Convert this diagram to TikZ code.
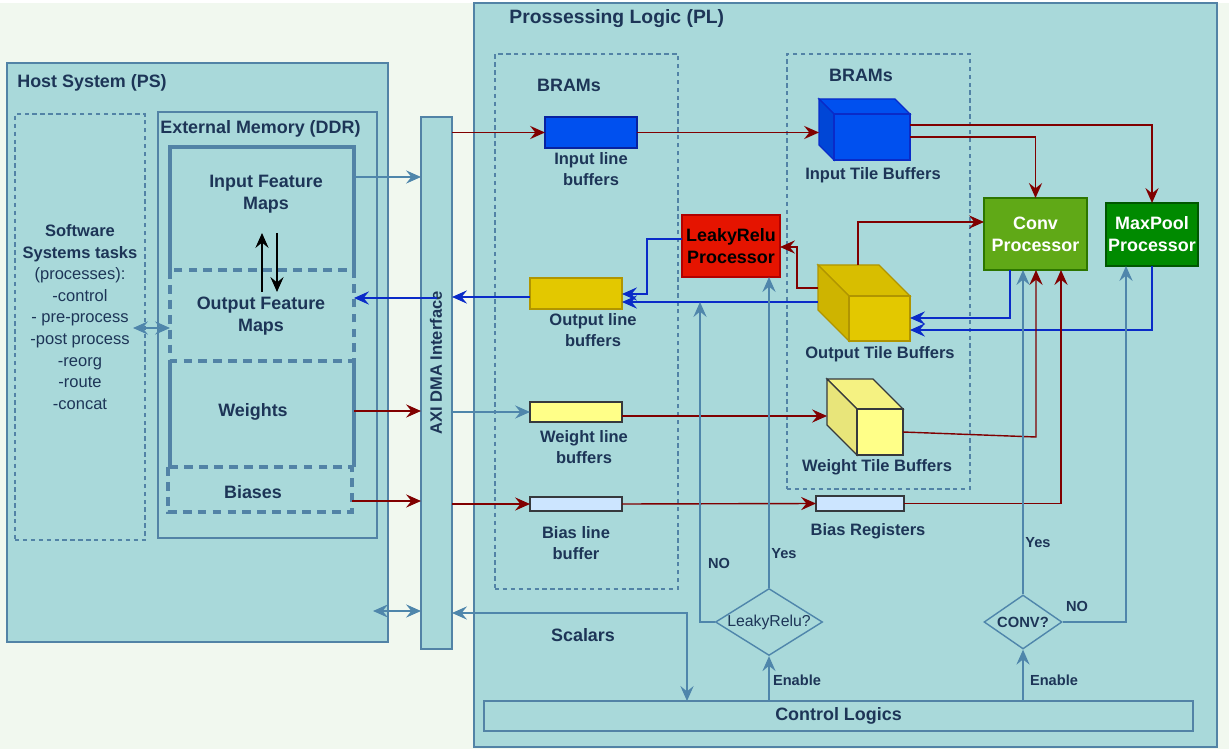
\documentclass[tikz,border=0pt]{standalone}
\usepackage{fontspec}
\setmainfont{Liberation Sans}
\usetikzlibrary{arrows.meta, fit, shapes.geometric}

\definecolor{bgcol}{HTML}{F1F8EF}
\definecolor{panelcol}{HTML}{A9D9DA}
\definecolor{edgecol}{HTML}{5283A6}
\definecolor{steelcol}{HTML}{4F86AB}
\definecolor{txtcol}{HTML}{1D3557}
\definecolor{darkred}{HTML}{800000}
\definecolor{bluecol}{HTML}{0A2BC8}

\begin{document}
\begin{tikzpicture}[x=0.02cm, y=-0.02cm, >={Stealth[length=8.5pt,width=7.5pt,inset=3pt]},
    every node/.style={text=txtcol},
    panel/.style={draw=edgecol, fill=panelcol, line width=0.7pt},
    brams/.style={draw=edgecol, line width=0.7pt, dash pattern=on 2.5pt off 2pt},
    membox/.style={draw=edgecol, line width=1.8pt},
    memdash/.style={membox, dash pattern=on 5pt off 3.5pt},
    boxfit/.style={inner sep=0pt, outer sep=0pt},
    lbl/.style={font=\bfseries\fontsize{9.4}{12.3}\selectfont, align=center},
    ttl/.style={font=\bfseries\fontsize{10.2}{12.5}\selectfont, align=center},
    small/.style={font=\bfseries\fontsize{8.3}{10}\selectfont},
    redline/.style={draw=darkred, line width=0.8pt, ->},
    blueline/.style={draw=bluecol, line width=0.8pt, ->},
    steelline/.style={draw=steelcol, line width=0.8pt, ->},
    decision/.style={diamond, draw=steelcol, line width=0.8pt, aspect=1.6, inner sep=0pt, fill=panelcol},
  ]
  \useasboundingbox (0,0) rectangle (1229,749);
  \fill[bgcol] (0,3) rectangle (1229,749);

  % host side
  \node[panel, boxfit, fit={(7,63) (388,642)}] (host) {};
  \node[ttl, anchor=west, inner sep=0pt] at (17,83) {Host System (PS)};
  \node[brams, boxfit, fit={(15,114) (145,540)}] (sw) {};
  \node[align=center, font=\fontsize{9.4}{12.3}\selectfont] (swtxt) at (80,317)
    {\textbf{Software}\\\textbf{Systems tasks}\\(processes):\\-control\\- pre-process\\-post process\\-reorg\\-route\\-concat};
  \node[panel, boxfit, fit={(158,112) (377,538)}] (ddr) {};
  \node[ttl, anchor=west, inner sep=0pt] at (160,129) {External Memory (DDR)};

  \node[boxfit, fit={(170,147) (354,270)}] (ifm) {};
  \node[boxfit, fit={(170,270) (354,361)}] (ofm) {};
  \node[boxfit, fit={(170,361) (354,467)}] (wts) {};
  \node[boxfit, fit={(168,467) (352,512)}] (bias) {};
  \draw[membox] (ifm.south west) -- (ifm.north west) -- (ifm.north east) -- (ifm.south east);
  \draw[membox] (wts.north west) -- (wts.south west) (wts.north east) -- (wts.south east);
  \draw[memdash] (ofm.north west) rectangle (ofm.south east);
  \draw[memdash] (bias.north west) rectangle (bias.south east);
  \node[ttl] at (266,194) {Input Feature\\Maps};
  \node[ttl] at (261,316) {Output Feature\\Maps};
  \node[ttl] at (253,412) {Weights};
  \node[ttl] at (253,492) {Biases};
  \coordinate (upa) at (262,292);
  \coordinate (upb) at (262,233);
  \coordinate (dna) at (277,233);
  \coordinate (dnb) at (277,292);
  \draw[->, line width=0.8pt] (upa) -- (upb);
  \draw[->, line width=0.8pt] (dna) -- (dnb);
  \coordinate (swlink) at (133,328);
  \draw[steelline, <->] (swlink) -- (ofm.west |- swlink);

  % AXI
  \node[panel, boxfit, fit={(421,117) (452,649)}] (axi) {};
  \node[lbl, rotate=90] at (436,363) {AXI DMA Interface};

  % PL side
  \node[panel, boxfit, fit={(474,3) (1217,747)}] (pl) {};
  \node[font=\bfseries\fontsize{11}{13}\selectfont, anchor=west, inner sep=0pt] at (509,19) {Prossessing Logic (PL)};
  \node[brams, boxfit, fit={(495,54) (678,589)}] (bram1) {};
  \node[brams, boxfit, fit={(787,54) (970,489)}] (bram2) {};
  \node[ttl] at (569,85) {BRAMs};
  \node[ttl] at (861,75) {BRAMs};

  % line buffers
  \node[boxfit, fit={(545,117) (637,148)}, draw=bluecol!80!black, fill={rgb,255:red,0;green,80;blue,239}, line width=0.7pt] (ilb) {};
  \node[boxfit, fit={(530,278) (622,309)}, draw={rgb,255:red,176;green,149;blue,0}, fill={rgb,255:red,227;green,200;blue,0}, line width=0.7pt] (olb) {};
  \node[boxfit, fit={(530,402) (622,422)}, draw={rgb,255:red,54;green,57;blue,61}, fill={rgb,255:red,255;green,255;blue,136}, line width=0.7pt] (wlb) {};
  \node[boxfit, fit={(530,497) (622,511)}, draw={rgb,255:red,54;green,57;blue,61}, fill={rgb,255:red,204;green,229;blue,255}, line width=0.7pt] (blb) {};
  \node[lbl] at (591,169) {Input line\\buffers};
  \node[lbl] at (593,330) {Output line\\buffers};
  \node[lbl] at (584,447) {Weight line\\buffers};
  \node[lbl] at (576,543) {Bias line\\buffer};

  % tile buffers
  \node[boxfit, fit={(819,99) (910,160)}] (itb) {};
  \filldraw[draw=bluecol, fill={rgb,255:red,0;green,80;blue,239}, line width=0.7pt]
    (itb.north west) -- ++(76,0) -- ++(15,15) -- ++(-76,0) -- cycle;
  \filldraw[draw=bluecol, fill={rgb,255:red,0;green,70;blue,214}, line width=0.7pt]
    (itb.north west) -- ++(15,15) -- ++(0,46) -- ++(-15,-15) -- cycle;
  \filldraw[draw=bluecol, fill={rgb,255:red,0;green,80;blue,239}, line width=0.7pt]
    (itb.north west) ++(15,15) rectangle (itb.south east);
  \node[boxfit, fit={(818,265) (910,341)}] (otb) {};
  \filldraw[draw={rgb,255:red,176;green,149;blue,0}, fill={rgb,255:red,216;green,190;blue,0}, line width=0.7pt]
    (otb.north west) -- ++(61,0) -- ++(31,31) -- ++(-61,0) -- cycle;
  \filldraw[draw={rgb,255:red,176;green,149;blue,0}, fill={rgb,255:red,206;green,180;blue,0}, line width=0.7pt]
    (otb.north west) -- ++(31,31) -- ++(0,45) -- ++(-31,-31) -- cycle;
  \filldraw[draw={rgb,255:red,176;green,149;blue,0}, fill={rgb,255:red,227;green,200;blue,0}, line width=0.7pt]
    (otb.north west) ++(31,31) rectangle (otb.south east);
  \node[boxfit, fit={(827,379) (903,455)}] (wtb) {};
  \filldraw[draw={rgb,255:red,54;green,57;blue,61}, fill={rgb,255:red,245;green,242;blue,130}, line width=0.7pt]
    (wtb.north west) -- ++(46,0) -- ++(30,30) -- ++(-46,0) -- cycle;
  \filldraw[draw={rgb,255:red,54;green,57;blue,61}, fill={rgb,255:red,232;green,229;blue,122}, line width=0.7pt]
    (wtb.north west) -- ++(30,30) -- ++(0,46) -- ++(-30,-30) -- cycle;
  \filldraw[draw={rgb,255:red,54;green,57;blue,61}, fill={rgb,255:red,255;green,255;blue,136}, line width=0.7pt]
    (wtb.north west) ++(30,30) rectangle (wtb.south east);
  \node[boxfit, fit={(816,496) (904,511)}, draw={rgb,255:red,54;green,57;blue,61}, fill={rgb,255:red,204;green,229;blue,255}, line width=0.7pt] (brg) {};
  \node[lbl] at (873,175) {Input Tile Buffers};
  \node[lbl] at (880,354) {Output Tile Buffers};
  \node[lbl] at (877,467) {Weight Tile Buffers};
  \node[lbl] at (868,531) {Bias Registers};

  % processors
  \node[boxfit, fit={(682,215) (780,277)}, draw={rgb,255:red,178;green,0;blue,0}, fill={rgb,255:red,229;green,20;blue,0}, line width=0.7pt] (lrp) {};
  \node[ttl, text=black] at (lrp.center) {LeakyRelu\\Processor};
  \node[boxfit, fit={(984,198) (1087,270)}, draw={rgb,255:red,45;green,118;blue,0}, fill={rgb,255:red,96;green,169;blue,23}, line width=0.7pt] (conv) {};
  \node[ttl, text=white] at (conv.center) {Conv\\Processor};
  \node[boxfit, fit={(1106,203) (1198,266)}, draw={rgb,255:red,0;green,87;blue,0}, fill={rgb,255:red,0;green,138;blue,0}, line width=0.7pt] (maxp) {};
  \node[ttl, text=white] at (maxp.center) {MaxPool\\Processor};

  % control
  \node[panel, boxfit, fit={(484,701) (1193,731)}] (ctrl) {};
  \node[ttl] at (ctrl.center) {Control Logics};
  \node[decision, minimum width=2.14cm, minimum height=1.34cm, font=\fontsize{9}{10}\selectfont] (lrq) at (769,622) {LeakyRelu?};
  \node[decision, minimum width=1.56cm, minimum height=1.08cm, font=\bfseries\fontsize{8.4}{10}\selectfont] (cvq) at (1023,622) {CONV?};
  \node[ttl] at (583,635) {Scalars};

  % DDR <-> AXI
  \draw[steelline] (ifm.east |- 0,177) -- (axi.west |- 0,177);
  \draw[blueline] (axi.center |- 0,298) -- (ofm.east |- 0,298);
  \draw[redline] (wts.east |- 0,411) -- (axi.west |- 0,411);
  \draw[redline] (bias.east |- 0,501) -- (axi.west |- 0,501);
  \coordinate (psbus) at (373,611);
  \draw[steelline, <->] (psbus) -- (axi.west |- psbus);

  % AXI <-> line buffers
  \draw[redline] (axi.east |- ilb.west) -- (ilb.west);
  \draw[blueline] (olb.west |- 0,297) -- (axi.east |- 0,297);
  \draw[steelline] (axi.east |- wlb.west) -- (wlb.west);
  \draw[redline] (axi.east |- blb.west) -- (blb.west);
  \draw[steelline, <->] (axi.east |- 0,613) -| (ctrl.north -| 687,0);

  % data paths
  \draw[redline] (ilb.east) -- (itb.west |- ilb.east);
  \draw[redline] (itb.east |- 0,137) -| (conv.north);
  \draw[redline] (itb.east |- 0,125) -| (maxp.north);
  \draw[redline] (otb.north -| 858,0) |- (conv.west |- 0,222);
  \draw[redline] (otb.west |- 0,288) -| (797,247) -- (lrp.east |- 0,247);
  \draw[blueline] (lrp.west |- 0,239) -| (647,294) -- (olb.east |- 0,294);
  \draw[blueline] (otb.west |- 0,302) -- (olb.east |- 0,302);
  \draw[blueline] (conv.south -| 1010,0) |- (otb.east |- 0,318);
  \draw[blueline] (maxp.south) |- (otb.east |- 0,330);
  \draw[redline] (wlb.east |- 0,416) -- (wtb.west |- 0,416);
  \draw[redline] (wtb.east |- 0,432) -- (1036,437) -- (conv.south -| 1036,0);
  \draw[redline] (blb.east) -- (brg.west);
  \draw[redline] (brg.east) -| (conv.south -| 1061,0);

  % control paths
  \coordinate (noleak) at (700,302);
  \draw[steelline] (ctrl.north -| lrq.south) -- (lrq.south);
  \draw[steelline] (lrq.north) -- (lrp.south -| lrq.north);
  \draw[steelline] (lrq.west) -| (noleak);
  \draw[steelline] (ctrl.north -| cvq.south) -- (cvq.south);
  \draw[steelline] (cvq.north) -- (conv.south -| cvq.north);
  \draw[steelline] (cvq.east) -| (maxp.south -| 1126,0);
  \node[small] at (784,554) {Yes};
  \node[small] at (719,563) {NO};
  \node[small] at (797,680) {Enable};
  \node[small] at (1038,543) {Yes};
  \node[small] at (1077,606) {NO};
  \node[small] at (1054,680) {Enable};
\end{tikzpicture}
\end{document}
